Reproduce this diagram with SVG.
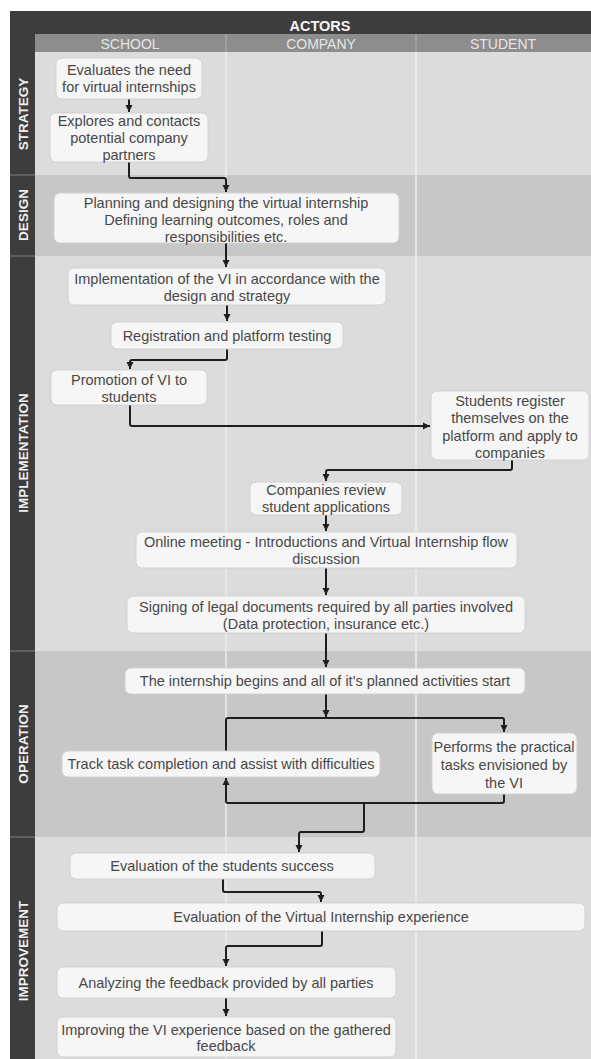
<svg xmlns="http://www.w3.org/2000/svg" width="591" height="1059" viewBox="0 0 591 1059">
<defs>
<marker id="arr" markerWidth="8" markerHeight="8" refX="7" refY="4" orient="auto" markerUnits="userSpaceOnUse">
<path d="M0,0.5 L7,4 L0,7.5 z" fill="#1e1e1e"/>
</marker>
<style>
.lt{fill:#dcdcdc}
.dk{fill:#c7c7c7}
.strip{fill:#3d3d3d}
.div{stroke:#ececec;stroke-width:1.5}
.hdr{fill:#8d8d8d}
.ht{font-family:"Liberation Sans",Arial,sans-serif;font-size:14px;fill:#e6e6e6;text-anchor:middle}
.at{font-family:"Liberation Sans",Arial,sans-serif;font-size:14.5px;font-weight:bold;fill:#f4f4f4;text-anchor:middle}
.lane{font-family:"Liberation Sans",Arial,sans-serif;font-size:13.5px;font-weight:bold;fill:#efefef;text-anchor:middle}
.box{fill:#f6f6f6;stroke:#d2d2d2;stroke-width:1}
.t{font-family:"Liberation Sans",Arial,sans-serif;font-size:14.5px;fill:#484848;text-anchor:middle;dominant-baseline:central}
.c{fill:none;stroke:#1e1e1e;stroke-width:2;stroke-linejoin:round}
.ca{fill:none;stroke:#1e1e1e;stroke-width:2;stroke-linejoin:round;marker-end:url(#arr)}
</style>
</defs>
<rect width="591" height="1059" fill="#ffffff"/>
<g id="lanes">
<rect class="lt" x="35" y="52" width="556" height="123"/>
<rect class="dk" x="35" y="175" width="556" height="81"/>
<rect class="lt" x="35" y="256" width="556" height="395"/>
<rect class="dk" x="35" y="651" width="556" height="186"/>
<rect class="lt" x="35" y="837" width="556" height="222"/>
<line class="div" x1="226" y1="52" x2="226" y2="1059"/>
<line class="div" x1="416" y1="52" x2="416" y2="1059"/>
</g>
<g id="header">
<rect class="strip" x="10" y="11" width="581" height="23"/>
<text class="at" x="320" y="31">ACTORS</text>
<rect class="hdr" x="35" y="34" width="556" height="18"/>
<line x1="226" y1="34" x2="226" y2="52" stroke="#a6a6a6" stroke-width="1.5"/>
<line x1="416" y1="34" x2="416" y2="52" stroke="#a6a6a6" stroke-width="1.5"/>
<text class="ht" x="130" y="49">SCHOOL</text>
<text class="ht" x="321" y="49">COMPANY</text>
<text class="ht" x="503" y="49">STUDENT</text>
</g>
<g id="lane-labels">
<rect class="strip" x="10" y="34" width="25" height="1025"/>
<line x1="10" y1="175" x2="35" y2="175" stroke="#6a6a6a" stroke-width="1.5"/>
<line x1="10" y1="256" x2="35" y2="256" stroke="#6a6a6a" stroke-width="1.5"/>
<line x1="10" y1="651" x2="35" y2="651" stroke="#6a6a6a" stroke-width="1.5"/>
<line x1="10" y1="837" x2="35" y2="837" stroke="#6a6a6a" stroke-width="1.5"/>
<text class="lane" transform="translate(27.5,114) rotate(-90)">STRATEGY</text>
<text class="lane" transform="translate(27.5,215) rotate(-90)">DESIGN</text>
<text class="lane" transform="translate(27.5,453) rotate(-90)">IMPLEMENTATION</text>
<text class="lane" transform="translate(27.5,744) rotate(-90)">OPERATION</text>
<text class="lane" transform="translate(27.5,951) rotate(-90)">IMPROVEMENT</text>
</g>
<g id="connectors">
<path class="ca" d="M129,99 V112"/>
<path class="ca" d="M129,162 V176 Q129,178 131,178 H224 Q226,178 226,180 V192"/>
<path class="ca" d="M226,243 V267"/>
<path class="ca" d="M227,305 V321"/>
<path class="ca" d="M227,349 V358 Q227,360 225,360 H132 Q130,360 130,362 V369"/>
<path class="ca" d="M130,405 V424 Q130,426 132,426 H430"/>
<path class="ca" d="M512,460 V468 Q512,470 510,470 H328 Q326,470 326,472 V481"/>
<path class="ca" d="M326,515 V531"/>
<path class="ca" d="M326,568 V595"/>
<path class="ca" d="M326,633 V667"/>
<path class="ca" d="M326,694 V717"/>
<path class="ca" d="M226,751 V720 Q226,718 228,718 H502 Q504,718 504,720 V732"/>
<path class="ca" d="M504,794 V801 Q504,803 502,803 H228 Q226,803 226,801 V778"/>
<path class="ca" d="M364,803 V830 Q364,832 362,832 H301 Q299,832 299,834 V852"/>
<path class="ca" d="M223,879 V890 Q223,892 225,892 H319 Q321,892 321,894 V902"/>
<path class="ca" d="M322,931 V944 Q322,946 320,946 H228 Q226,946 226,948 V966"/>
<path class="ca" d="M226,998 V1016"/>
</g>
<g id="n1"><rect class="box" x="56" y="58" width="146" height="41" rx="6"/>
<text class="t" x="129" y="70">Evaluates the need</text><text class="t" x="129" y="87">for virtual internships</text></g>
<g id="n2"><rect class="box" x="50" y="113" width="158" height="49" rx="6"/>
<text class="t" x="129" y="121">Explores and contacts</text><text class="t" x="129" y="138">potential company</text><text class="t" x="129" y="155">partners</text></g>
<g id="n3"><rect class="box" x="54" y="193" width="345" height="50" rx="6"/>
<text class="t" x="226" y="203">Planning and designing the virtual internship</text><text class="t" x="226" y="220">Defining learning outcomes, roles and</text><text class="t" x="226" y="237">responsibilities etc.</text></g>
<g id="n4"><rect class="box" x="68" y="268" width="318" height="37" rx="6"/>
<text class="t" x="227" y="279">Implementation of the VI in accordance with the</text><text class="t" x="227" y="296">design and strategy</text></g>
<g id="n5"><rect class="box" x="111" y="322" width="232" height="27" rx="6"/>
<text class="t" x="227" y="336">Registration and platform testing</text></g>
<g id="n6"><rect class="box" x="51" y="370" width="156" height="35" rx="6"/>
<text class="t" x="129" y="380">Promotion of VI to</text><text class="t" x="129" y="397">students</text></g>
<g id="n7"><rect class="box" x="431" y="391" width="158" height="69" rx="6"/>
<text class="t" x="510" y="401">Students register</text><text class="t" x="510" y="418">themselves on the</text><text class="t" x="510" y="436">platform and apply to</text><text class="t" x="510" y="453">companies</text></g>
<g id="n8"><rect class="box" x="250" y="482" width="152" height="33" rx="6"/>
<text class="t" x="326" y="490">Companies review</text><text class="t" x="326" y="507">student applications</text></g>
<g id="n9"><rect class="box" x="136" y="532" width="381" height="36" rx="6"/>
<text class="t" x="326" y="542">Online meeting - Introductions and Virtual Internship flow</text><text class="t" x="326" y="559">discussion</text></g>
<g id="n10"><rect class="box" x="127" y="596" width="398" height="37" rx="6"/>
<text class="t" x="326" y="607">Signing of legal documents required by all parties involved</text><text class="t" x="326" y="624">(Data protection, insurance etc.)</text></g>
<g id="n11"><rect class="box" x="125" y="668" width="400" height="26" rx="6"/>
<text class="t" x="325" y="681">The internship begins and all of it's planned activities start</text></g>
<g id="n12"><rect class="box" x="62" y="751" width="318" height="26" rx="6"/>
<text class="t" x="221" y="764">Track task completion and assist with difficulties</text></g>
<g id="n13"><rect class="box" x="432" y="733" width="145" height="61" rx="6"/>
<text class="t" x="504" y="747">Performs the practical</text><text class="t" x="504" y="765">tasks envisioned by</text><text class="t" x="504" y="783">the VI</text></g>
<g id="n14"><rect class="box" x="70" y="853" width="305" height="26" rx="6"/>
<text class="t" x="222" y="866">Evaluation of the students success</text></g>
<g id="n15"><rect class="box" x="57" y="903" width="528" height="28" rx="6"/>
<text class="t" x="321" y="917">Evaluation of the Virtual Internship experience</text></g>
<g id="n16"><rect class="box" x="57" y="967" width="339" height="31" rx="6"/>
<text class="t" x="226" y="983">Analyzing the feedback provided by all parties</text></g>
<g id="n17"><rect class="box" x="57" y="1017" width="339" height="40" rx="6"/>
<text class="t" x="226" y="1030">Improving the VI experience based on the gathered</text><text class="t" x="226" y="1046">feedback</text></g>
</svg>
